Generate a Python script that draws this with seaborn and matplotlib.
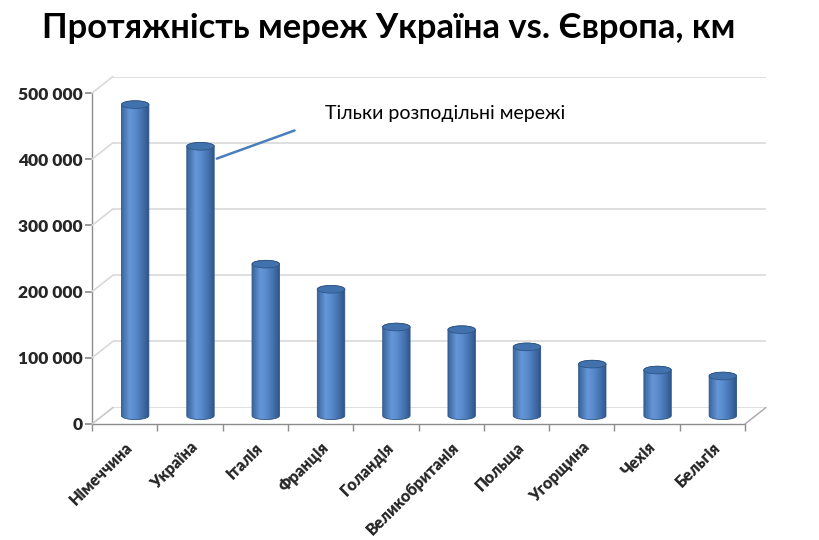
import numpy as np
import pandas as pd
import matplotlib
matplotlib.use("Agg")
import matplotlib.pyplot as plt
import seaborn as sns
from matplotlib.colors import LinearSegmentedColormap
from matplotlib.patches import Polygon, Ellipse, ConnectionPatch
from matplotlib.ticker import FuncFormatter

# data (km of networks)
countries = ["Німеччина", "Україна", "Італія", "Франція", "Голандія",
             "Великобританія", "Польща", "Угорщина", "Чехія", "Бельгія"]
lengths_km = [470000, 407000, 229000, 191000, 134000,
              130000, 104000, 78000, 69000, 60000]
y_ticks = [0, 100000, 200000, 300000, 400000, 500000]
title = "Протяжність мереж Україна vs. Європа, км"
note = "Тільки розподільні мережі"

df = pd.DataFrame({"country": countries, "km": lengths_km})

sns.set_theme(style="white")
plt.rcParams["font.family"] = ["Lato", "DejaVu Sans"]

W, H = 819, 540
fig = plt.figure(figsize=(W / 100, H / 100), dpi=100)
fig.patch.set_facecolor("white")

# pixel layout of the front plane and the 3D depth offset
left, bottom, right, top = 92, 116, 745, 447
dx, dy = 21, 16.5

def pos(ox, oy):
    return [(left + ox) / W, (bottom + oy) / H, (right - left) / W, (top - bottom) / H]

ax_back = fig.add_axes(pos(dx, dy))
ax = fig.add_axes(pos(0, 0))
ax_bar = fig.add_axes(pos(dx / 2, dy / 2))

for a in (ax_back, ax, ax_bar):
    a.set_xlim(-0.5, len(countries) - 0.5)
    a.set_ylim(0, 500000)
    a.set_facecolor("none")

# back wall gridlines
for s in ax_back.spines.values():
    s.set_visible(False)
ax_back.set_xticks([])
ax_back.set_yticks([])
for v in y_ticks:
    ax_back.axhline(v, color="#d9d9d9", lw=1.2)

# front axes: ticks and labels
for s in ["top", "right"]:
    ax.spines[s].set_visible(False)
for s in ["left", "bottom"]:
    ax.spines[s].set_color("#8c8c8c")
    ax.spines[s].set_linewidth(1.0)
ax.set_yticks(y_ticks)
ax.yaxis.set_major_formatter(FuncFormatter(lambda v, p: f"{int(v):,}".replace(",", " ")))
ax.tick_params(axis="y", which="major", length=5, color="#8c8c8c", direction="out",
               labelsize=12.5, pad=2, left=True)
for lab in ax.get_yticklabels():
    lab.set_fontweight("heavy")
ax.set_xticks(range(len(countries)))
ax.set_xticklabels(countries, rotation=45, ha="right", va="top",
                   rotation_mode="anchor", fontsize=11.5, fontweight="heavy")
ax.tick_params(axis="x", which="major", length=0, pad=11)
ax.set_xticks(np.arange(-0.5, len(countries)), minor=True)
ax.tick_params(axis="x", which="minor", length=5, color="#8c8c8c", direction="out", bottom=True)

# side wall and floor edges
for v in y_ticks:
    fig.add_artist(ConnectionPatch(xyA=(-0.5, v), coordsA=ax.transData,
                                   xyB=(-0.5, v), coordsB=ax_back.transData,
                                   color="#d9d9d9" if v else "#c8c8c8", lw=1.2))
fig.add_artist(ConnectionPatch(xyA=(len(countries) - 0.5, 0), coordsA=ax.transData,
                               xyB=(len(countries) - 0.5, 0), coordsB=ax_back.transData,
                               color="#a6a6a6", lw=1.0))

# cylinder bars
sns.barplot(data=df, x="country", y="km", ax=ax_bar, width=0.42,
            color="#4f81bd", saturation=1)
ax_bar.axis("off")

shade = LinearSegmentedColormap.from_list(
    "cyl", [(0, "#3a659d"), (0.3, "#6596d8"), (0.5, "#5a8cce"), (0.8, "#416ea9"), (1, "#2d5487")])
grad = shade(np.linspace(0, 1, 64))[None, :, :]

# ellipse half-height in data units (about 4 px)
e = 3.8 * 500000 / (top - bottom)

for patch in list(ax_bar.patches):
    x0, w, h = patch.get_x(), patch.get_width(), patch.get_height()
    xc = x0 + w / 2
    patch.set_visible(False)
    t1 = np.linspace(np.pi, 2 * np.pi, 40)
    t2 = np.linspace(0, np.pi, 40)
    xs = np.concatenate([xc + w / 2 * np.cos(t1), xc + w / 2 * np.cos(t2)])
    ys = np.concatenate([e * np.sin(t1), h + e * np.sin(t2)])
    outline = Polygon(np.column_stack([xs, ys]), closed=True, transform=ax_bar.transData,
                      facecolor="none", edgecolor="#2f5585", lw=0.6, zorder=2.5,
                      clip_on=False)
    ax_bar.add_patch(outline)
    im = ax_bar.imshow(grad, extent=(x0, x0 + w, -e, h + e), aspect="auto",
                       interpolation="bilinear", zorder=2)
    im.set_clip_box(fig.bbox)
    im.set_clip_path(outline)
    ax_bar.add_patch(Ellipse((xc, h), w, 2 * e, facecolor="#4272ae",
                             edgecolor="#2f5585", lw=0.6, zorder=3))

ax_bar.set_xlim(-0.5, len(countries) - 0.5)
ax_bar.set_ylim(0, 500000)

# note for Ukraine
ukr = countries.index("Україна")
ax_bar.annotate("", xy=(ukr + 0.21, lengths_km[ukr] - 20000),
                xytext=(83, 30), textcoords="offset pixels",
                arrowprops=dict(arrowstyle="-", color="#4a7ebb", lw=1.8),
                annotation_clip=False)
ax_bar.annotate(note, xy=(ukr + 0.21, lengths_km[ukr] - 20000),
                xytext=(111, 46), textcoords="offset pixels",
                fontsize=14, color="black", va="center", ha="left",
                annotation_clip=False)

fig.text(42 / W, 1 - 28 / H, title, fontsize=24.8, fontweight="bold",
         ha="left", va="center", color="black")

fig.savefig("out.png", dpi=100)
